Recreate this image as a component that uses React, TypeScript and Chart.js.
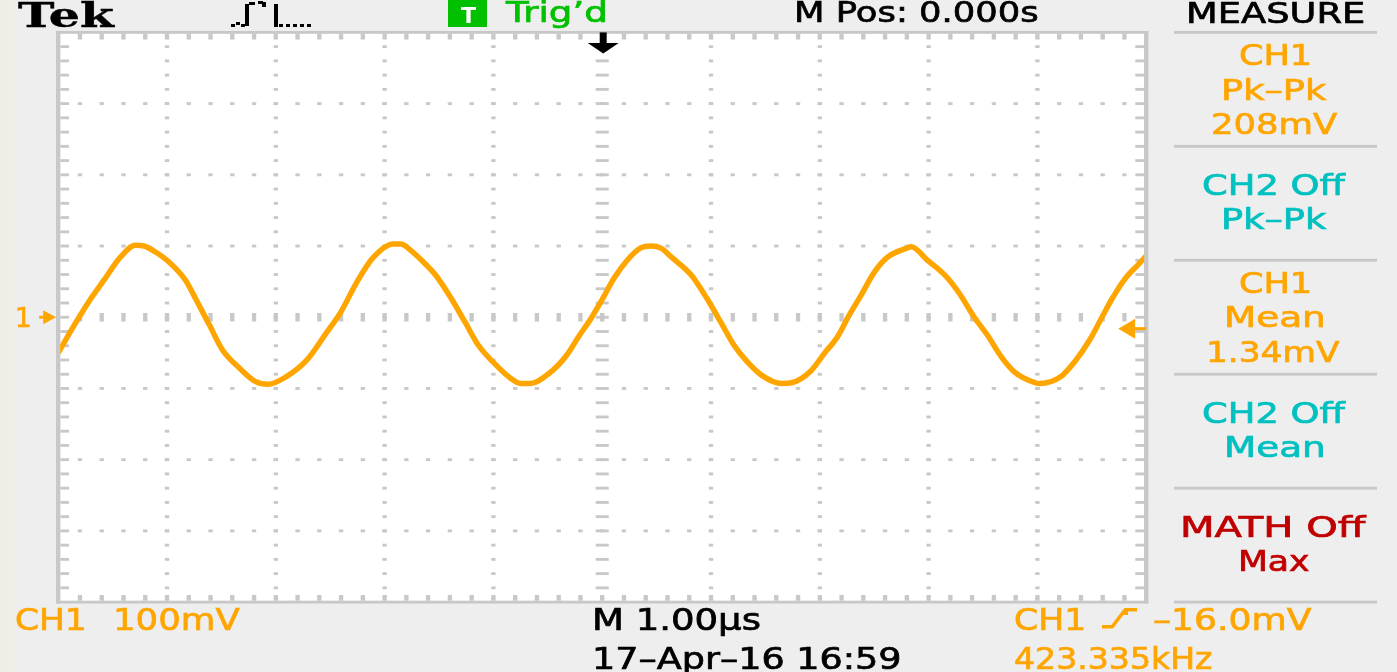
import React, { useEffect, useRef } from "react";
import { Chart, registerables } from "chart.js";

Chart.register(...registerables);

// ---- data (time in µs, CH1 in mV) ----
const timeUs = [
  -5.0, -4.84, -4.71, -4.58, -4.43, -4.29, -4.21, -4.11, -4.0, -3.83,
  -3.72, -3.61, -3.49, -3.33, -3.19, -3.07, -2.91, -2.72, -2.54, -2.4,
  -2.26, -2.11, -1.92, -1.85, -1.76, -1.66, -1.53, -1.39, -1.26, -1.14,
  -0.97, -0.84, -0.75, -0.66, -0.49, -0.33, -0.22, -0.1, 0.0, 0.11,
  0.23, 0.35, 0.45, 0.54, 0.64, 0.82, 0.96, 1.09, 1.21, 1.33,
  1.47, 1.65, 1.74, 1.92, 2.04, 2.16, 2.27, 2.38, 2.5, 2.62,
  2.8, 2.84, 2.99, 3.15, 3.28, 3.42, 3.54, 3.67, 3.79, 3.98,
  4.02, 4.21, 4.35, 4.48, 4.59, 4.69, 4.81, 4.92, 5.0,
];
const ch1mV = [
  -50, -8, 24, 52, 84, 101, 100, 92, 80, 52,
  21, -11, -46, -72, -90, -94, -84, -61, -23, 8,
  48, 83, 103, 103, 94, 80, 59, 27, -7, -39,
  -68, -86, -93, -93, -79, -54, -28, -1, 25, 55,
  80, 97, 100, 97, 84, 59, 27, -7, -39, -62,
  -82, -93, -92, -75, -51, -28, 3, 31, 63, 84,
  97, 99, 80, 59, 34, 0, -25, -56, -77, -92,
  -93, -84, -61, -32, -1, 27, 55, 73, 86,
];
const timeRangeUs = [-5, 5]; // 10 divisions × 1.00 µs
const voltRangeMv = [-400, 400]; // 8 divisions × 100 mV
const minorTimeUs = 0.2;
const minorVoltMv = 20;
const groundMv = 0;
const triggerLevelMv = -16;
const triggerTimeUs = 0;

const measureBlocks = [
  { color: "orange", lines: ["CH1", "Pk–Pk", "208mV"] },
  { color: "cyan", lines: ["CH2 Off", "Pk–Pk"] },
  { color: "orange", lines: ["CH1", "Mean", "1.34mV"] },
  { color: "cyan", lines: ["CH2 Off", "Mean"] },
  { color: "red", lines: ["MATH Off", "Max"] },
];

// ---- styling ----
const W = 1397;
const H = 672;
const ORANGE = "#ffa500";
const CYAN = "#00c0c0";
const RED = "#c00000";
const GREEN = "#00c000";
const GRID = "#c8c8c8";
const BG = "#eeeeee";
const COLORS: Record<string, string> = { orange: ORANGE, cyan: CYAN, red: RED };
const AREA = { left: 58.2, top: 32.4, right: 1146.2, bottom: 602.1 };

const inkWidth: Record<string, number> = {
  CH1: 69,
  "Pk–Pk": 103,
  "208mV": 124,
  "CH2 Off": 143,
  Mean: 96,
  "1.34mV": 130,
  "MATH Off": 184,
  Max: 69,
};

type Txt = {
  s: string;
  color: string;
  size: number;
  left: number;
  right: number;
  base: number;
  family?: string;
  weight?: string;
  stroke?: number;
};

let mctx: CanvasRenderingContext2D | null = null;
function measure(font: string, s: string) {
  if (!mctx) mctx = document.createElement("canvas").getContext("2d");
  mctx!.font = font;
  return mctx!.measureText(s);
}

function Label({ t }: { t: Txt }) {
  const family = t.family ?? "'DejaVu Sans'";
  const weight = t.weight ?? "normal";
  const font = `${weight} ${t.size}px ${family}`;
  const m = measure(font, t.s);
  const inkL = m.actualBoundingBoxLeft;
  const ink = m.actualBoundingBoxLeft + m.actualBoundingBoxRight;
  const k = (t.right - t.left) / ink;
  const asc = m.fontBoundingBoxAscent;
  const desc = m.fontBoundingBoxDescent;
  const baseOff = (t.size - (asc + desc)) / 2 + asc;
  const stroke = t.stroke ?? 0.7;
  return (
    <div
      style={{
        position: "absolute",
        left: t.left + k * inkL,
        top: t.base - baseOff,
        fontFamily: family,
        fontWeight: weight as any,
        fontSize: t.size,
        lineHeight: `${t.size}px`,
        color: t.color,
        whiteSpace: "pre",
        transform: `scaleX(${k})`,
        transformOrigin: "0 0",
        WebkitTextStroke: stroke > 0 ? `${stroke}px ${t.color}` : undefined,
      }}
    >
      {t.s}
    </div>
  );
}

const graticule = {
  id: "graticule",
  beforeDatasetsDraw(chart: any) {
    const { ctx, chartArea: a, scales } = chart;
    const xs = scales.x;
    const ys = scales.y;
    const sx = (a.right - a.left) / 250;
    const sy = (a.bottom - a.top) / 200;
    ctx.save();
    ctx.fillStyle = "#ffffff";
    ctx.fillRect(a.left, a.top, a.right - a.left, a.bottom - a.top);
    ctx.fillStyle = GRID;
    const box = (cx: number, cy: number, w: number, h: number) =>
      ctx.fillRect(cx - w / 2, cy - h / 2, w, h);

    const minorX: number[] = [];
    for (let t = timeRangeUs[0] + minorTimeUs; t < timeRangeUs[1] - 1e-6; t += minorTimeUs)
      minorX.push(xs.getPixelForValue(t));
    const minorY: number[] = [];
    for (let v = voltRangeMv[0] + minorVoltMv; v < voltRangeMv[1] - 1e-6; v += minorVoltMv)
      minorY.push(ys.getPixelForValue(v));

    // vertical division lines (centre line gets wider marks)
    for (let t = timeRangeUs[0] + 1; t < timeRangeUs[1]; t += 1) {
      const px = xs.getPixelForValue(t);
      const w = Math.abs(t) < 1e-6 ? 3 * sx : sx;
      minorY.forEach((py) => box(px, py, w, sy));
    }
    // horizontal division lines (centre line gets taller marks)
    for (let v = voltRangeMv[0] + 100; v < voltRangeMv[1]; v += 100) {
      const py = ys.getPixelForValue(v);
      const h = v === 0 ? 3 * sy : sy;
      minorX.forEach((px) => box(px, py, sx, h));
    }
    // border
    ctx.fillRect(a.left - sx / 2, a.top - sy / 2, a.right - a.left + sx, sy);
    ctx.fillRect(a.left - sx / 2, a.bottom - sy / 2, a.right - a.left + sx, sy);
    ctx.fillRect(a.left - sx / 2, a.top - sy / 2, sx, a.bottom - a.top + sy);
    ctx.fillRect(a.right - sx / 2, a.top - sy / 2, sx, a.bottom - a.top + sy);
    // border ticks
    minorY.forEach((py) => {
      ctx.fillRect(a.left + sx / 2, py - sy / 2, 2 * sx, sy);
      ctx.fillRect(a.right - sx / 2 - 2 * sx, py - sy / 2, 2 * sx, sy);
    });
    minorX.forEach((px) => {
      ctx.fillRect(px - sx / 2, a.top + sy / 2, sx, 2 * sy);
      ctx.fillRect(px - sx / 2, a.bottom - sy / 2 - 2 * sy, sx, 2 * sy);
    });
    ctx.restore();
  },
  afterDatasetsDraw(chart: any) {
    const { ctx, chartArea: a, scales } = chart;
    const xs = scales.x;
    const ys = scales.y;
    ctx.save();
    // trigger position (top, black)
    const tx = xs.getPixelForValue(triggerTimeUs) + 1;
    ctx.fillStyle = "#000";
    ctx.fillRect(tx - 3.5, a.top, 7, 11);
    ctx.beginPath();
    ctx.moveTo(tx - 15.5, a.top + 10.5);
    ctx.lineTo(tx + 15.5, a.top + 10.5);
    ctx.lineTo(tx, a.top + 21);
    ctx.closePath();
    ctx.fill();
    // trigger level (right, orange)
    ctx.fillStyle = ORANGE;
    const ty = ys.getPixelForValue(triggerLevelMv);
    ctx.beginPath();
    ctx.moveTo(a.right - 28, ty);
    ctx.lineTo(a.right - 11, ty - 10);
    ctx.lineTo(a.right - 11, ty + 10);
    ctx.closePath();
    ctx.fill();
    ctx.fillRect(a.right - 12, ty - 1.5, 12, 3);
    // ground marker (left, orange)
    const gy = ys.getPixelForValue(groundMv);
    ctx.beginPath();
    ctx.moveTo(a.left - 2.2, gy);
    ctx.lineTo(a.left - 15, gy - 7);
    ctx.lineTo(a.left - 15, gy + 7);
    ctx.closePath();
    ctx.fill();
    ctx.fillRect(a.left - 19, gy - 1.5, 5, 3);
    ctx.restore();
  },
  afterDraw(chart: any) {
    const { ctx, chartArea: a } = chart;
    const sy = (a.bottom - a.top) / 200;
    ctx.save();
    // measure panel separators
    ctx.fillStyle = GRID;
    for (let r = 0; r <= 200; r += 40) {
      ctx.fillRect(1174, a.top - sy / 2 + r * sy, 203, sy);
    }
    // green trigger-status box
    ctx.fillStyle = GREEN;
    ctx.fillRect(448, 0, 39, 27);
    // acquisition icon
    ctx.fillStyle = "#000";
    ctx.fillRect(231, 24, 4, 3);
    ctx.fillRect(236, 22, 4, 3);
    ctx.fillRect(241, 24, 4, 3);
    ctx.fillRect(245, 4, 4, 22);
    ctx.fillRect(249, 2, 6, 3);
    ctx.fillRect(258, 1, 5, 3);
    ctx.fillRect(262, 2, 4, 5);
    ctx.fillRect(274, 4, 4, 23);
    for (let x = 279; x < 308; x += 7) ctx.fillRect(x, 24, 4, 3);
    // rising-edge symbol
    ctx.fillStyle = ORANGE;
    ctx.strokeStyle = ORANGE;
    ctx.fillRect(1102, 625, 11, 3.5);
    ctx.lineWidth = 3.5;
    ctx.beginPath();
    ctx.moveTo(1112, 627);
    ctx.lineTo(1125, 610);
    ctx.stroke();
    ctx.fillRect(1124, 608, 13, 3.5);
    ctx.fillRect(1124, 608, 4, 7);
    ctx.restore();
  },
};

export default function App() {
  const ref = useRef<HTMLCanvasElement | null>(null);

  useEffect(() => {
    if (!ref.current) return;
    const chart = new Chart(ref.current, {
      type: "line",
      data: {
        datasets: [
          {
            label: "CH1",
            data: timeUs.map((t, i) => ({ x: t, y: ch1mV[i] })),
            borderColor: ORANGE,
            borderWidth: 5.5,
            pointRadius: 0,
            cubicInterpolationMode: "monotone",
            fill: false,
            borderJoinStyle: "round",
            clip: { left: -2, right: -2, top: 0, bottom: 0 } as any,
          } as any,
        ],
      },
      options: {
        animation: false,
        responsive: false,
        events: [],
        layout: {
          padding: {
            left: AREA.left,
            top: AREA.top,
            right: W - AREA.right,
            bottom: H - AREA.bottom,
          },
        },
        scales: {
          x: { type: "linear", min: timeRangeUs[0], max: timeRangeUs[1], display: false },
          y: { type: "linear", min: voltRangeMv[0], max: voltRangeMv[1], display: false },
        },
        plugins: {
          legend: { display: false },
          tooltip: { enabled: false },
          title: { display: false },
        },
      },
      plugins: [graticule as any],
    });
    return () => chart.destroy();
  }, []);

  const sepTop = (r: number) => 31 + r * 2.848;
  const labels: Txt[] = [
    { s: "Tek", color: "#000", size: 34, family: "'DejaVu Serif'", weight: "bold", left: 18, right: 116, base: 27, stroke: 0.4 },
    { s: "T", color: "#fff", size: 22, weight: "bold", left: 461, right: 476, base: 23, stroke: 0 },
    { s: "Trig’d", color: GREEN, size: 29, left: 505, right: 605, base: 22 },
    { s: "M Pos: 0.000s", color: "#000", size: 29, left: 796, right: 1037, base: 22.7 },
    { s: "MEASURE", color: "#000", size: 29, left: 1189, right: 1364, base: 23 },
    { s: "1", color: ORANGE, size: 26, left: 17, right: 30, base: 327 },
    { s: "CH1", color: ORANGE, size: 31, left: 16.5, right: 84, base: 630 },
    { s: "100mV", color: ORANGE, size: 31, left: 116, right: 239, base: 630 },
    { s: "M 1.00µs", color: "#000", size: 31, left: 596, right: 760, base: 630 },
    { s: "17–Apr–16 16:59", color: "#000", size: 31, left: 596, right: 900, base: 669 },
    { s: "CH1", color: ORANGE, size: 31, left: 1015, right: 1083, base: 630 },
    { s: "–16.0mV", color: ORANGE, size: 31, left: 1154, right: 1311, base: 630 },
    { s: "423.335kHz", color: ORANGE, size: 31, left: 1015, right: 1211, base: 669 },
  ];
  measureBlocks.forEach((b, i) => {
    const top = sepTop(i * 40);
    b.lines.forEach((s, j) => {
      const base = b.lines.length === 3 ? top + 34.5 * (j + 1) : top + 50.5 + 34.5 * j;
      const w = inkWidth[s] ?? 100;
      labels.push({ s, color: COLORS[b.color], size: 29, left: 1275 - w / 2, right: 1275 + w / 2, base });
    });
  });

  return (
    <div
      style={{
        position: "fixed",
        left: 0,
        top: 0,
        width: W,
        height: H,
        background: BG,
        overflow: "hidden",
      }}
    >
      <div style={{ position: "absolute", left: 0, top: 0, width: 13, height: H, background: "#f0ede6" }} />
      <canvas ref={ref} width={W} height={H} style={{ position: "absolute", left: 0, top: 0 }} />
      {labels.map((t, i) => (
        <Label key={i} t={t} />
      ))}
    </div>
  );
}
